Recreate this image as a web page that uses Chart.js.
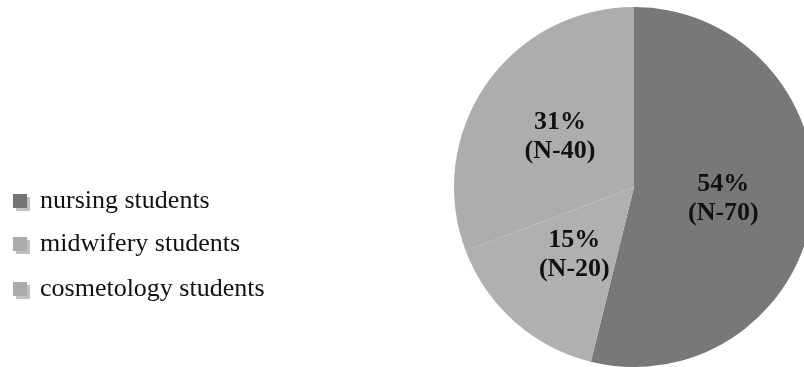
<!DOCTYPE html>
<html>
<head>
<meta charset="utf-8">
<script src="https://cdn.jsdelivr.net/npm/chart.js@4.4.1/dist/chart.umd.min.js"></script>
<style>
  html, body { margin: 0; padding: 0; background: #ffffff; overflow: hidden; }
  #wrap { position: relative; width: 830px; height: 367px; }
</style>
</head>
<body>
<div id="wrap"><canvas id="pie" width="830" height="367"></canvas></div>
<script>
// Student groups and their counts
const categories = ['nursing students', 'midwifery students', 'cosmetology students'];
const counts = [70, 20, 40];
const sliceColors = ['#787878', '#b0b0b0', '#adadad'];
const legendMarkerColors = ['#747474', '#ababab', '#ababab'];

const total = counts.reduce((a, b) => a + b, 0);
const percentLabels = counts.map(v => Math.round(v / total * 100) + '%');
const countLabels = counts.map(v => '(N-' + v + ')');

// Two-line value labels inside each slice
const sliceLabels = {
  id: 'sliceLabels',
  afterDatasetsDraw(chart) {
    const ctx = chart.ctx;
    const meta = chart.getDatasetMeta(0);
    ctx.save();
    ctx.fillStyle = '#111111';
    ctx.font = 'bold 26px "Liberation Serif", "Times New Roman", serif';
    ctx.textAlign = 'center';
    ctx.textBaseline = 'middle';
    meta.data.forEach((arc, i) => {
      const p = arc.getCenterPoint();
      ctx.fillText(percentLabels[i], p.x, p.y - 14);
      ctx.fillText(countLabels[i], p.x, p.y + 15);
    });
    ctx.restore();
  }
};

// Legend on the left with small shadowed square markers
const sideLegend = {
  id: 'sideLegend',
  afterDraw(chart) {
    const ctx = chart.ctx;
    const baselines = [208, 251, 296];
    ctx.save();
    ctx.font = '26px "Liberation Serif", "Times New Roman", serif';
    ctx.textBaseline = 'alphabetic';
    ctx.textAlign = 'left';
    categories.forEach((name, i) => {
      const y = baselines[i];
      // marker shadow
      ctx.fillStyle = 'rgba(150,150,150,0.6)';
      ctx.fillRect(16, y - 11, 14, 14);
      ctx.fillStyle = legendMarkerColors[i];
      ctx.fillRect(13, y - 14, 14, 14);
      ctx.fillStyle = '#111111';
      ctx.fillText(name, 40, y);
    });
    ctx.restore();
  }
};

new Chart(document.getElementById('pie'), {
  type: 'pie',
  data: {
    labels: categories,
    datasets: [{
      data: counts,
      backgroundColor: sliceColors,
      borderWidth: 0
    }]
  },
  options: {
    responsive: false,
    animation: false,
    layout: { padding: { left: 454, right: 16, top: 7, bottom: 0 } },
    plugins: {
      legend: { display: false },
      tooltip: { enabled: false }
    }
  },
  plugins: [sliceLabels, sideLegend]
});
</script>
</body>
</html>
